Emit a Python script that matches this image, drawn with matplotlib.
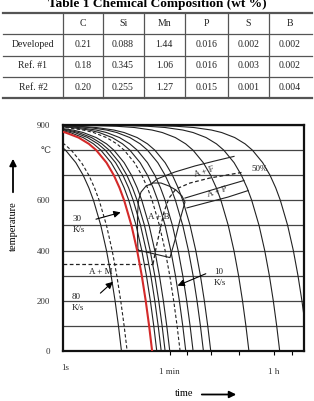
import matplotlib.pyplot as plt
from matplotlib.ticker import NullFormatter
import numpy as np

plt.rcParams['font.family'] = ['Liberation Serif', 'DejaVu Serif']

# Table 1, chemical composition (wt %)
elements = ['C', 'Si', 'Mn', 'P', 'S', 'B']
steel_names = ['Developed', 'Ref. #1', 'Ref. #2']
developed = ['0.21', '0.088', '1.44', '0.016', '0.002', '0.002']
ref_1 = ['0.18', '0.345', '1.06', '0.016', '0.003', '0.002']
ref_2 = ['0.20', '0.255', '1.27', '0.015', '0.001', '0.004']

# CCT diagram: constant cooling rates (K/s) starting from 900 C
start_temp = 900
rates_solid = [100, 25, 21, 18, 15, 8, 6, 4, 3, 0.67, 0.2, 0.065]
rates_dashed = [80, 10]
rate_red = 30
curve_temps = [899.9, 899.5, 899, 898, 895, 890, 880, 870, 850, 825, 800,
               750, 700, 650, 600, 500, 400, 300, 200, 100, 0]

# transformation regions (time s, temperature C)
bainite_t = [17.2, 16.9, 16.9, 17.6, 19.4, 23.6, 31.1, 42.5, 58.2, 76.7, 97.0, 109, 89.7, 73.7, 60.5, 17.2]
bainite_T = [402, 462, 542, 601, 633, 657, 669, 669, 657, 641, 617, 593, 522, 442, 372, 402]
ferrite_t = [27.6, 36.4, 73.7, 162, 355, 748]
ferrite_T = [661, 685, 713, 737, 757, 775]
half_t = [31.1, 35.0, 40.9, 47.9, 58.2, 76.7, 133, 291, 1004]
half_T = [346, 410, 482, 554, 609, 645, 669, 689, 711]
pearlite_start_t = [109, 239, 525, 1105]
pearlite_start_T = [609, 633, 657, 679]
pearlite_end_t = [118, 239, 591, 1305]
pearlite_end_T = [570, 589, 613, 639]
ms_t = [0.9, 31.1]
ms_temp = 345

fig = plt.figure(figsize=(3.14, 4.01), dpi=100)

# ---- table drawn on an overlay in pixel units ----
tab = fig.add_axes([0, 0, 1, 1], zorder=-1)
tab.set_xlim(0, 314)
tab.set_ylim(401, 0)
tab.axis('off')

tab.text(157, 4.5, 'Table 1 Chemical Composition (wt %)', ha='center', va='center',
         fontsize=9.6, fontweight='bold')
row_edges = [12.5, 34, 55.5, 76.5, 97.5]
col_edges = [63, 102.5, 143.5, 185, 227.5, 269, 311]
for i, y in enumerate(row_edges):
    lw = 1.6 if i in (0, len(row_edges) - 1) else 0.9
    tab.plot([3, 312], [y, y], color='#555', lw=lw)
for x in col_edges[:-1]:
    tab.plot([x, x], [row_edges[0], row_edges[-1]], color='#555', lw=0.9)

rows = [[''] + elements, [steel_names[0]] + developed,
        [steel_names[1]] + ref_1, [steel_names[2]] + ref_2]
col_centers = [33] + [(a + b) / 2 for a, b in zip(col_edges[:-1], col_edges[1:])]
for r, row in enumerate(rows):
    yc = (row_edges[r] + row_edges[r + 1]) / 2
    for c, txt in enumerate(row):
        tab.text(col_centers[c], yc, txt, ha='center', va='center', fontsize=7, color='#222')

# axis captions with arrows
tab.text(13, 226, 'temperature', rotation=90, ha='center', va='center', fontsize=7.5)
tab.annotate('', xy=(13, 156), xytext=(13, 195),
             arrowprops=dict(arrowstyle='-|>', lw=1.3, color='k', mutation_scale=10))
tab.text(184, 393, 'time', ha='center', va='center', fontsize=7.5)
tab.annotate('', xy=(239, 394.5), xytext=(199, 394.5),
             arrowprops=dict(arrowstyle='-|>', lw=1.3, color='k', mutation_scale=10))

# ---- CCT diagram ----
ax = fig.add_axes([63 / 314, 50 / 401, 241 / 314, 226 / 401])
ax.set_xscale('log')
ax.set_xlim(0.906, 11690)
ax.set_ylim(0, 900)

temps = np.array(curve_temps)
for r in rates_solid:
    ax.plot((start_temp - temps) / r, temps, color='#222', lw=0.8, zorder=2)
for r in rates_dashed:
    ax.plot((start_temp - temps) / r, temps, color='#222', lw=0.8, ls=(0, (3, 2)), zorder=2)
ax.plot((start_temp - temps) / rate_red, temps, color='#d42a2a', lw=1.5, zorder=3)

ax.plot(bainite_t, bainite_T, color='#222', lw=0.8)
ax.plot(ferrite_t, ferrite_T, color='#222', lw=0.8)
ax.plot(pearlite_start_t, pearlite_start_T, color='#222', lw=0.8)
ax.plot(pearlite_end_t, pearlite_end_T, color='#222', lw=0.8)
ax.plot(half_t, half_T, color='#222', lw=0.9, ls=(0, (3, 2)))
ax.plot(ms_t, [ms_temp, ms_temp], color='#222', lw=0.9, ls=(0, (3, 2)))

lab = dict(fontsize=6.5, color='#222')
ax.text(230, 713, 'A + F', ha='center', va='center', rotation=18, **lab)
ax.text(384, 633, 'A + P', ha='center', va='center', rotation=18, **lab)
ax.text(39.3, 533, 'A + B', ha='center', va='center', **lab)
ax.text(4.03, 315, 'A + M', ha='center', va='center', **lab)
ax.text(2080, 725, '50%', ha='center', va='center', **lab)
ax.text(1.34, 526, '30', ha='left', va='center', **lab)
ax.text(1.34, 482, 'K/s', ha='left', va='center', **lab)
ax.text(1.29, 215, '80', ha='left', va='center', **lab)
ax.text(1.29, 171, 'K/s', ha='left', va='center', **lab)
ax.text(341, 313, '10', ha='left', va='center', **lab)
ax.text(341, 271, 'K/s', ha='left', va='center', **lab)
arrow = dict(arrowstyle='-|>', lw=0.8, color='k', mutation_scale=10)
ax.annotate('', xy=(9.68, 555), xytext=(2.98, 522), arrowprops=arrow)
ax.annotate('', xy=(6.98, 283), xytext=(3.63, 223), arrowprops=arrow)
ax.annotate('', xy=(73.7, 256), xytext=(273, 312), arrowprops=arrow)

ax.set_yticks([0, 200, 400, 600, 800, 900])
ax.set_yticklabels(['0', '200', '400', '600', '\u2103', '900'])
ax.set_yticks([100, 300, 500, 700], minor=True)
ax.grid(axis='y', which='both', color='#444', lw=0.9, zorder=0)
ax.tick_params(axis='y', which='both', length=0, pad=9, labelsize=6.5, colors='#333')

ax.set_xticks([60, 3600])
ax.set_xticklabels(['1 min', '1 h'])
ax.set_xticks([120, 300, 900, 7200], minor=True)
ax.xaxis.set_minor_formatter(NullFormatter())
ax.tick_params(axis='x', which='both', direction='out', length=3, width=0.8,
               pad=9, labelsize=6.5, labelcolor='#333')
ax.text(0.98, -0.075, '1s', transform=ax.get_xaxis_transform(), ha='center',
        va='center', fontsize=6.5, color='#333')
for s in ax.spines.values():
    s.set_linewidth(1.6)
    s.set_color('#111')

fig.savefig('out.png', dpi=100)
